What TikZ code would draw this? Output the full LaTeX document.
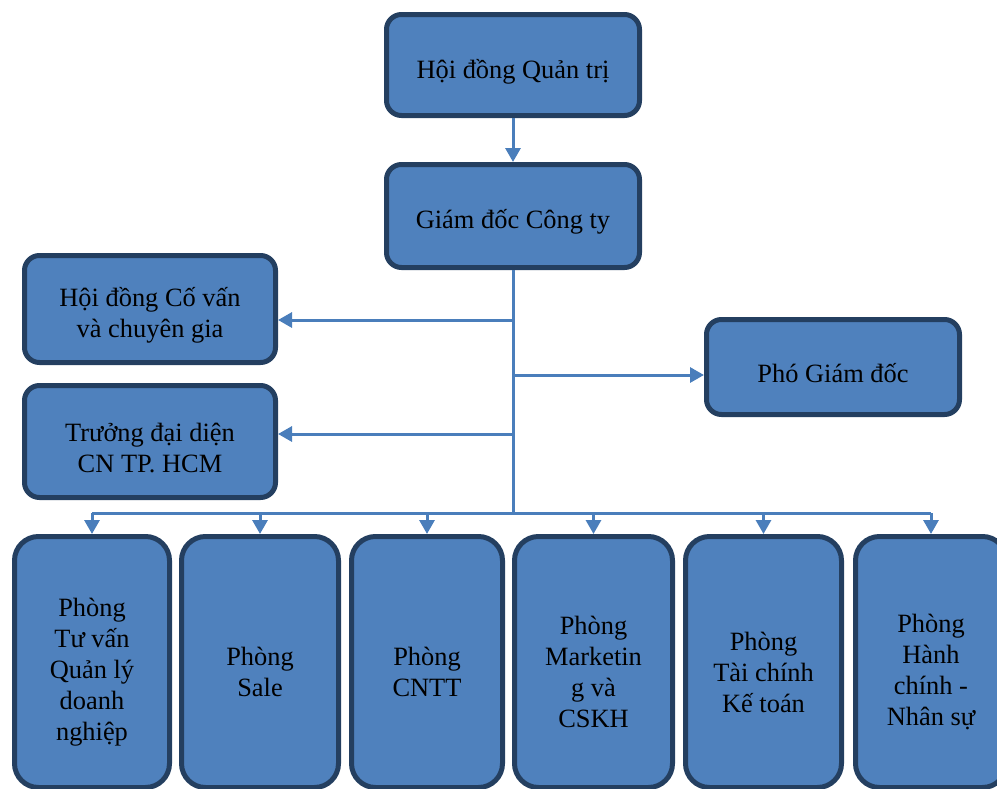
\documentclass[tikz,border=0pt]{standalone}
\usepackage{fontspec}
\setmainfont{Liberation Serif}
\usetikzlibrary{arrows.meta}

\definecolor{boxfill}{HTML}{4F81BD}
\definecolor{boxline}{HTML}{243F60}
\definecolor{linkblue}{HTML}{4A7EBB}

\tikzset{
  unit/.style={draw=boxline, fill=boxfill, line width=2.5pt, rounded corners=7.5pt, inner sep=0pt},
  dept/.style={unit, rounded corners=12pt, minimum height=125.5pt},
  caption/.style={align=center, inner sep=0pt, font=\fontsize{13.2}{15.5}\selectfont},
  wire/.style={draw=linkblue, line width=1.5pt},
  link/.style={wire, -{Triangle[width=7.5pt,length=7pt]}},
}

\begin{document}
\begin{tikzpicture}[x=0.5pt, y=-0.5pt]

\useasboundingbox (0,0) rectangle (997,788);
\clip (0,0) rectangle (997,788);

% TOP OF THE CHART

% Board and director
\node[unit, minimum width=126.5pt, minimum height=50.5pt] (hdqt) at (513,65) {};
\node[caption] (hdqt-t) at ([yshift=-3.5pt]hdqt.center) {Hội đồng Quản trị};
\node[unit, minimum width=126.5pt, minimum height=51.5pt] (gd) at (513,216) {};
\node[caption] (gd-t) at ([yshift=-3pt]gd.center) {Giám đốc Công ty};
\draw[link] (hdqt) -- (gd);

% Side units
\node[unit, minimum width=125.5pt, minimum height=53.5pt] (covan) at (150,309) {};
\node[caption] (covan-t) at ([yshift=-3pt]covan.center) {Hội đồng Cố vấn\\và chuyên gia};
\node[unit, minimum width=125.5pt, minimum height=56pt] (daidien) at (150,441.5) {};
\node[caption] (daidien-t) at ([yshift=-3pt]daidien.center) {Trưởng đại diện\\CN TP. HCM};
\node[unit, minimum width=126.5pt, minimum height=47.5pt] (phogd) at (833,367) {};
\node[caption] (phogd-t) at ([yshift=-3pt]phogd.center) {Phó Giám đốc};

% Trunk and branches
\coordinate (bus) at (513,513);
\coordinate (j1) at (513,320);
\coordinate (j2) at (513,375);
\coordinate (j3) at (513,434);
\draw[wire] (gd) -- (bus);
\draw[link] (j1) -- (covan.east |- j1);
\draw[link] (j2) -- (phogd.west |- j2);
\draw[link] (j3) -- (daidien.east |- j3);

% DEPARTMENTS

\node[dept, minimum width=77.5pt] (p1) at (92,662) {};
\node[dept, minimum width=78.5pt] (p2) at (260,662) {};
\node[dept, minimum width=75.5pt] (p3) at (427,662) {};
\node[dept, minimum width=79pt] (p4) at (593.5,662) {};
\node[dept, minimum width=78pt] (p5) at (763.5,662) {};
\node[dept, minimum width=75.5pt] (p6) at (931,662) {};

\node[caption] (p1-t) at ([yshift=-5pt]p1.center) {Phòng\\Tư vấn\\Quản lý\\doanh\\nghiệp};
\node[caption] (p2-t) at ([yshift=-5pt]p2.center) {Phòng\\Sale};
\node[caption] (p3-t) at ([yshift=-5pt]p3.center) {Phòng\\CNTT};
\node[caption] (p4-t) at ([yshift=-5pt]p4.center) {Phòng\\Marketin\\g và\\CSKH};
\node[caption] (p5-t) at ([yshift=-5pt]p5.center) {Phòng\\Tài chính\\Kế toán};
\node[caption] (p6-t) at ([yshift=-5pt]p6.center) {Phòng\\Hành\\chính -\\Nhân sự};

% Bus line with one arrow per department
\draw[wire] (p1.north |- bus) -- (p6.north |- bus);
\foreach \i in {1,...,6}
  \draw[link] (p\i.north |- bus) -- (p\i.north);

\end{tikzpicture}
\end{document}
